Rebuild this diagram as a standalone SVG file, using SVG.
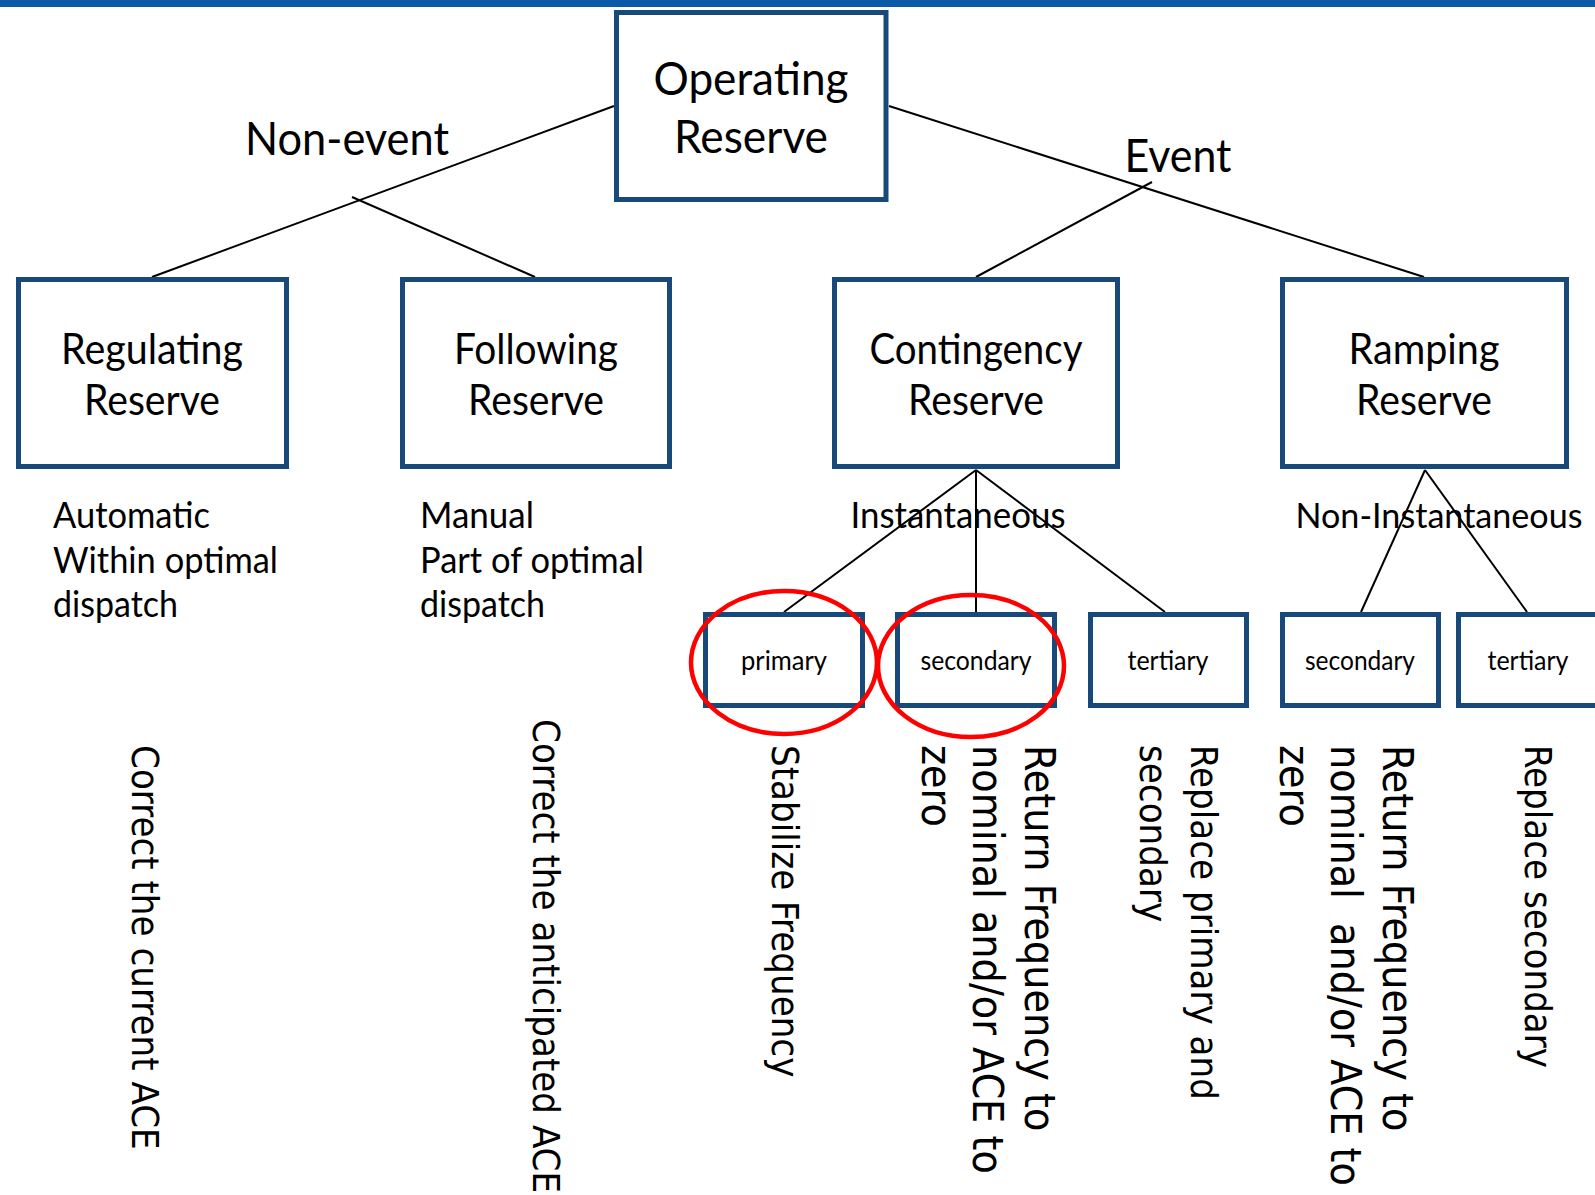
<svg xmlns="http://www.w3.org/2000/svg" width="1595" height="1195" viewBox="0 0 1595 1195">
<style>
.box{fill:#ffffff;stroke:#18497b;stroke-width:5}
.lbl{font-family:Lato,'Liberation Sans',sans-serif;fill:#000000}
.t47{font-size:47px}
.t42{font-size:42px}
.t37{font-size:36px}
.t35{font-size:34px}
.t26{font-size:26px}
.mid{text-anchor:middle}
.vt{font-family:'DejaVu Sans Condensed','DejaVu Sans',sans-serif;font-stretch:condensed;fill:#000000}
.v38{font-size:38px}
.v41{font-size:42.5px}
.conn line{stroke:#000000;stroke-width:2}
.ring{fill:none;stroke:#ff0000;stroke-width:4.5}
</style>
<rect x="0" y="0" width="1595" height="1195" fill="#ffffff"/>
<rect x="0" y="0" width="1595" height="7" fill="#0b5aa8"/>

<g id="connectors" class="conn">
  <line x1="614" y1="106" x2="152" y2="277"/>
  <line x1="352" y1="197" x2="535" y2="277"/>
  <line x1="889" y1="106" x2="1424" y2="277"/>
  <line x1="1152" y1="182" x2="976" y2="277"/>
  <line x1="976" y1="470" x2="784" y2="612"/>
  <line x1="976" y1="470" x2="976" y2="612"/>
  <line x1="976" y1="470" x2="1165" y2="612"/>
  <line x1="1425" y1="470" x2="1361" y2="612"/>
  <line x1="1425" y1="470" x2="1527" y2="612"/>
</g>

<g id="edge-labels">
  <text class="lbl t47 mid" x="347" y="155" textLength="204" lengthAdjust="spacingAndGlyphs">Non-event</text>
  <text class="lbl t47 mid" x="1178" y="172" textLength="107" lengthAdjust="spacingAndGlyphs">Event</text>
  <text class="lbl t37 mid" x="958" y="528" textLength="215" lengthAdjust="spacingAndGlyphs">Instantaneous</text>
  <text class="lbl t35 mid" x="1439" y="528" textLength="287" lengthAdjust="spacingAndGlyphs">Non-Instantaneous</text>
</g>

<g id="node-operating">
  <rect class="box" x="616.5" y="12.5" width="269.5" height="187"/>
  <text class="lbl t47 mid" x="751" y="95" textLength="195" lengthAdjust="spacingAndGlyphs">Operating</text>
  <text class="lbl t47 mid" x="751" y="153" textLength="154" lengthAdjust="spacingAndGlyphs">Reserve</text>
</g>

<g id="node-regulating">
  <rect class="box" x="18.5" y="279.5" width="268" height="187"/>
  <text class="lbl t42 mid" x="152" y="364" textLength="182" lengthAdjust="spacingAndGlyphs">Regulating</text>
  <text class="lbl t42 mid" x="152" y="415" textLength="136" lengthAdjust="spacingAndGlyphs">Reserve</text>
</g>

<g id="node-following">
  <rect class="box" x="402.5" y="279.5" width="267" height="187"/>
  <text class="lbl t42 mid" x="536" y="364" textLength="164" lengthAdjust="spacingAndGlyphs">Following</text>
  <text class="lbl t42 mid" x="536" y="415" textLength="136" lengthAdjust="spacingAndGlyphs">Reserve</text>
</g>

<g id="node-contingency">
  <rect class="box" x="834.5" y="279.5" width="283" height="187"/>
  <text class="lbl t42 mid" x="976" y="364" textLength="213" lengthAdjust="spacingAndGlyphs">Contingency</text>
  <text class="lbl t42 mid" x="976" y="415" textLength="136" lengthAdjust="spacingAndGlyphs">Reserve</text>
</g>

<g id="node-ramping">
  <rect class="box" x="1282.5" y="279.5" width="284" height="187"/>
  <text class="lbl t42 mid" x="1424" y="364" textLength="151" lengthAdjust="spacingAndGlyphs">Ramping</text>
  <text class="lbl t42 mid" x="1424" y="415" textLength="136" lengthAdjust="spacingAndGlyphs">Reserve</text>
</g>

<g id="node-primary">
  <rect class="box" x="705.5" y="614.5" width="157" height="91"/>
  <text class="lbl t26 mid" x="784" y="670" textLength="86" lengthAdjust="spacingAndGlyphs">primary</text>
</g>
<g id="node-secondary-inst">
  <rect class="box" x="897.5" y="614.5" width="157" height="91"/>
  <text class="lbl t26 mid" x="976" y="670" textLength="111" lengthAdjust="spacingAndGlyphs">secondary</text>
</g>
<g id="node-tertiary-inst">
  <rect class="box" x="1090.5" y="614.5" width="156" height="91"/>
  <text class="lbl t26 mid" x="1168" y="670" textLength="81" lengthAdjust="spacingAndGlyphs">tertiary</text>
</g>
<g id="node-secondary-noninst">
  <rect class="box" x="1282.5" y="614.5" width="156" height="91"/>
  <text class="lbl t26 mid" x="1360" y="670" textLength="110" lengthAdjust="spacingAndGlyphs">secondary</text>
</g>
<g id="node-tertiary-noninst">
  <rect class="box" x="1458.5" y="614.5" width="160" height="91"/>
  <text class="lbl t26 mid" x="1528" y="670" textLength="81" lengthAdjust="spacingAndGlyphs">tertiary</text>
</g>

<g id="notes-regulating">
  <text class="lbl t37" x="53" y="528" textLength="157" lengthAdjust="spacingAndGlyphs">Automatic</text>
  <text class="lbl t37" x="53" y="573" textLength="225" lengthAdjust="spacingAndGlyphs">Within optimal</text>
  <text class="lbl t37" x="53" y="617" textLength="125" lengthAdjust="spacingAndGlyphs">dispatch</text>
  <text class="vt v38" transform="translate(132,745) rotate(90)">Correct the current ACE</text>
</g>

<g id="notes-following">
  <text class="lbl t37" x="420" y="528" textLength="114" lengthAdjust="spacingAndGlyphs">Manual</text>
  <text class="lbl t37" x="420" y="573" textLength="224" lengthAdjust="spacingAndGlyphs">Part of optimal</text>
  <text class="lbl t37" x="420" y="617" textLength="125" lengthAdjust="spacingAndGlyphs">dispatch</text>
  <text class="vt v38" transform="translate(533,719) rotate(90)">Correct the anticipated ACE</text>
</g>

<g id="notes-contingency">
  <text class="vt v38" transform="translate(772,745) rotate(90)">Stabilize Frequency</text>
  <text class="vt v41" transform="translate(1025,745) rotate(90)"><tspan x="0" y="0">Return Frequency to</tspan><tspan x="0" y="52">nominal and/or ACE to</tspan><tspan x="0" y="103">zero</tspan></text>
  <text class="vt v38" transform="translate(1191,745) rotate(90)"><tspan x="0" y="0">Replace primary and</tspan><tspan x="0" y="51">secondary</tspan></text>
</g>

<g id="notes-ramping">
  <text class="vt v41" transform="translate(1383,745) rotate(90)"><tspan x="0" y="0">Return Frequency to</tspan><tspan x="0" y="52">nominal&#160; and/or ACE to</tspan><tspan x="0" y="103">zero</tspan></text>
  <text class="vt v38" transform="translate(1525,745) rotate(90)">Replace secondary</text>
</g>

<g id="highlights">
  <ellipse class="ring" cx="784" cy="662.5" rx="93" ry="71.5"/>
  <ellipse class="ring" cx="971" cy="666" rx="93" ry="71"/>
</g>
</svg>
